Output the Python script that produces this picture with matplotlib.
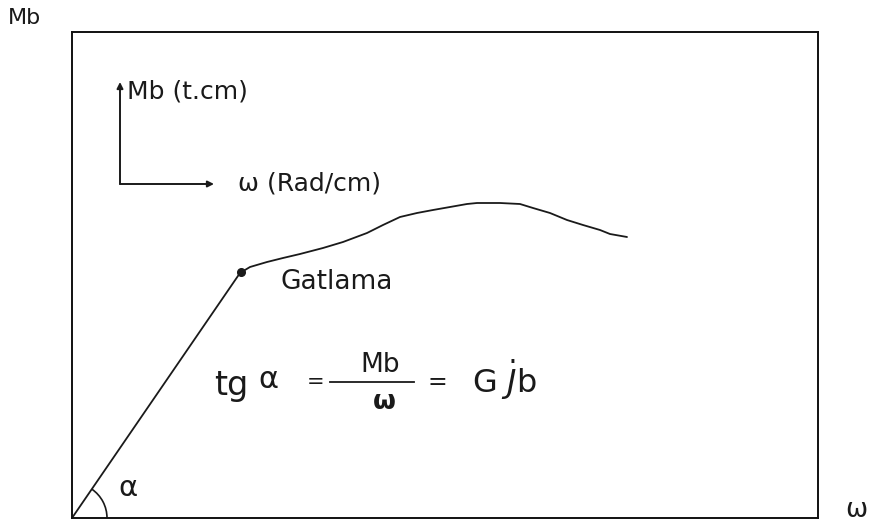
import numpy as np
import matplotlib.pyplot as plt
from matplotlib.patches import Arc

# moment-rotation curve (omega, Mb), origin at bottom-left corner of the frame
omega = [0, 168, 178, 195, 211, 228, 251, 271, 295, 311, 328, 345, 361, 378,
         395, 405, 428, 448, 461, 478, 495, 511, 528, 538, 555]
mb = [0, 245, 251, 256, 260, 264, 270, 276, 285, 293, 301, 305, 308, 311,
      314, 315, 315, 314, 310, 305, 298, 293, 288, 284, 281]
yield_pt = (169, 246)

fig = plt.figure(figsize=(8.69, 5.26), dpi=100)
ax = fig.add_axes([72 / 869, 8 / 526, 746 / 869, 486 / 526])
ax.set_xlim(0, 746)
ax.set_ylim(0, 486)
ax.set_xticks([])
ax.set_yticks([])
for s in ax.spines.values():
    s.set_linewidth(1.4)
    s.set_color('#111111')

ink = '#1a1a1a'
ax.plot(omega, mb, color=ink, lw=1.3, solid_capstyle='round', solid_joinstyle='round')
ax.plot(*yield_pt, 'o', color=ink, ms=5.5)
ax.text(208, 236, 'Gatlama', fontsize=19, va='center', ha='left', color=ink)

# small axis key
ax.annotate('', xy=(48, 436), xytext=(48, 334),
            arrowprops=dict(arrowstyle='-|>', lw=1.4, color=ink, mutation_scale=9,
                            shrinkA=0, shrinkB=0))
ax.annotate('', xy=(142, 334), xytext=(48, 334),
            arrowprops=dict(arrowstyle='-|>', lw=1.4, color=ink, mutation_scale=9,
                            shrinkA=0, shrinkB=0))
ax.text(55, 426, 'Mb (t.cm)', fontsize=18, va='center', ha='left', color=ink)
ax.text(166, 335, 'ω (Rad/cm)', fontsize=18, va='center', ha='left', color=ink)

# angle alpha at the origin
ax.add_patch(Arc((0, 0), 70, 70, theta1=0, theta2=np.degrees(np.arctan2(246, 169)),
                 lw=1.2, color=ink))
ax.text(46, 30, 'α', fontsize=21, va='center', ha='left', color=ink)

# tg(alpha) = Mb / omega = G Jb
fy = 136
ax.text(142, fy - 4, 'tg', fontsize=24, va='center', ha='left', color=ink)
ax.text(186, fy + 2, 'α', fontsize=22, va='center', ha='left', color=ink)
ax.text(244, fy, '=', fontsize=15, va='center', ha='center', color=ink)
ax.plot([258, 342], [fy, fy], color=ink, lw=1.3)
ax.text(308, fy + 17, 'Mb', fontsize=19, va='center', ha='center', color=ink)
ax.text(312, fy - 20, 'ω', fontsize=19, va='center', ha='center', color=ink,
        fontweight='bold')
ax.text(355, fy, '=', fontsize=17, va='center', ha='left', color=ink)
ax.text(400, fy + 2, 'G $\\dot{J}$b', fontsize=23, va='center', ha='left', color=ink)

# axis names outside the frame
fig.text(8 / 869, 1 - 18 / 526, 'Mb', fontsize=16, va='center', ha='left', color=ink)
fig.text(845 / 869, 1 - 510 / 526, 'ω', fontsize=19, va='center', ha='left', color=ink)

fig.savefig('out.png', dpi=100, facecolor='white')
